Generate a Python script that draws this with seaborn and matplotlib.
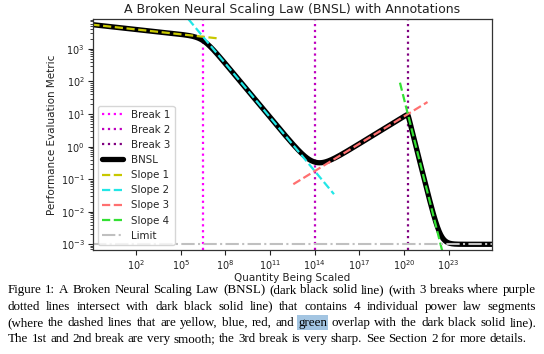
import numpy as np
import pandas as pd
import matplotlib
matplotlib.use("Agg")
import matplotlib.pyplot as plt
import seaborn as sns
from matplotlib.ticker import LogLocator, NullFormatter, NullLocator, FixedLocator, LogFormatterSciNotation

# ---------------- data ----------------
limit_a = 1e-3
scale_b = 5000.0
slope_c0 = 0.05
slope_c = [0.5, -0.83, 2.1]
break_d = [10 ** 6.5, 1e14, 10 ** 20.25]
sharp_f = [0.8, 1.1, 0.05]

break_labels = ["Break 1", "Break 2", "Break 3"]
slope_labels = ["Slope 1", "Slope 2", "Slope 3", "Slope 4"]
slope_extent = [(10 ** -1.0, 10 ** 7.64), (10 ** 5.51, 10 ** 15.29),
                (10 ** 12.56, 10 ** 21.57), (10 ** 19.72, 10 ** 22.7)]
x_ticks = [1e2, 1e5, 1e8, 1e11, 1e14, 1e17, 1e20, 1e23]

caption_lines = [
    "Figure 1: A Broken Neural Scaling Law (BNSL) (dark black solid line) (with 3 breaks where purple",
    "dotted lines intersect with dark black solid line) that contains 4 individual power law segments",
    "(where the dashed lines that are yellow, blue, red, and green overlap with the dark black solid line).",
    "The 1st and 2nd break are very smooth; the 3rd break is very sharp. See Section 2 for more details.",
]
highlight_word = (2, "green")

# ---------------- styles ----------------
break_colors = ["#ff00ff", "#bf00bf", "#800080"]
slope_colors = ["#c8c800", "#22e6e6", "#ff7070", "#33e033"]
limit_color = "#c0c0c0"

sns.set_style("ticks")
plt.rcParams["font.family"] = ["DejaVu Sans"]
plt.rcParams["axes.edgecolor"] = "#333333"


def bnsl(x):
    lx = np.log(x)
    ly = np.log(scale_b) - slope_c0 * lx
    for ci, di, fi in zip(slope_c, break_d, sharp_f):
        ly += -ci * fi * np.logaddexp(0.0, (lx - np.log(di)) / fi)
    return limit_a + np.exp(ly)


def segment(i, x):
    lx = np.log(x)
    ly = np.log(scale_b) - slope_c0 * lx
    for j in range(i):
        ly += -slope_c[j] * (lx - np.log(break_d[j]))
    return np.exp(ly)


W, H = 544, 354
fig = plt.figure(figsize=(W / 100, H / 100), dpi=100)
ax = fig.add_axes([93 / W, 1 - 250 / H, (492 - 93) / W, (250 - 19.3) / H])
ax.set_xscale("log")
ax.set_yscale("log")

for d, lab, col in zip(break_d, break_labels, break_colors):
    ax.axvline(d, color=col, ls=":", lw=1.6, label=lab)

xs = np.logspace(-1, 26, 3000)
df = pd.DataFrame({"x": xs, "y": bnsl(xs)})
sns.lineplot(data=df, x="x", y="y", ax=ax, color="black", lw=3.8, label="BNSL", sort=True)

for i, (lab, col, (x0, x1)) in enumerate(zip(slope_labels, slope_colors, slope_extent)):
    sx = np.logspace(np.log10(x0), np.log10(x1), 200)
    sdf = pd.DataFrame({"x": sx, "y": segment(i, sx)})
    sns.lineplot(data=sdf, x="x", y="y", ax=ax, color=col, lw=1.6, ls="--", label=lab)

ax.axhline(limit_a, color=limit_color, ls="-.", lw=1.5, label="Limit")

ax.set_xlim(10 ** -0.89, 10 ** 25.9)
ax.set_ylim(10 ** -3.175, 10 ** 3.91)
ax.xaxis.set_major_locator(FixedLocator(x_ticks))
ax.xaxis.set_major_formatter(LogFormatterSciNotation())
ax.xaxis.set_minor_locator(NullLocator())
ax.yaxis.set_major_locator(LogLocator(base=10, numticks=20))
ax.yaxis.set_minor_locator(LogLocator(base=10, subs=np.arange(2, 10), numticks=20))
ax.yaxis.set_minor_formatter(NullFormatter())
ax.tick_params(labelsize=7, length=3.5, width=0.8, colors="#222222", pad=2.5)
ax.tick_params(which="minor", length=2, width=0.6)
for s in ax.spines.values():
    s.set_linewidth(0.9)

ax.set_xlabel("Quantity Being Scaled", fontsize=7.5, labelpad=0.8, color="#222222")
ax.set_ylabel("Performance Evaluation Metric", fontsize=7.5, labelpad=3, color="#222222")
ax.set_title("A Broken Neural Scaling Law (BNSL) with Annotations", fontsize=9.0, pad=4.5, color="#222222")

leg = ax.legend(loc="lower left", fontsize=7.4, framealpha=0.8, borderaxespad=0.5)

# ---------------- caption (justified) ----------------
fig.canvas.draw()
r = fig.canvas.get_renderer()
cap_font = dict(family="Liberation Serif", size=9.4, color="black")
x_left, x_right = 7.6, 536.3
base0, line_gap = 293.4, 16.2
space_t = fig.text(0, 0, "a a", **cap_font)
aa_t = fig.text(0, 0, "aa", **cap_font)
space_w = space_t.get_window_extent(r).width - aa_t.get_window_extent(r).width
space_t.remove()
aa_t.remove()

for li, line in enumerate(caption_lines):
    words = line.split(" ")
    texts = [fig.text(0, 0, w_, va="baseline", ha="left", **cap_font) for w_ in words]
    widths = [t.get_window_extent(r).width for t in texts]
    if li < len(caption_lines) - 1:
        gap = (x_right - x_left - sum(widths)) / (len(words) - 1)
    else:
        gap = space_w * 1.1
    xpos = x_left
    ybase = 1 - (base0 + li * line_gap) / H
    for t, w_, word in zip(texts, widths, words):
        t.set_position((xpos / W, ybase))
        if (li, word) == highlight_word:
            t.set_bbox(dict(facecolor="#a3c5e2", edgecolor="none", pad=1.0))
        xpos += w_ + gap

fig.savefig("out.png", dpi=100)
